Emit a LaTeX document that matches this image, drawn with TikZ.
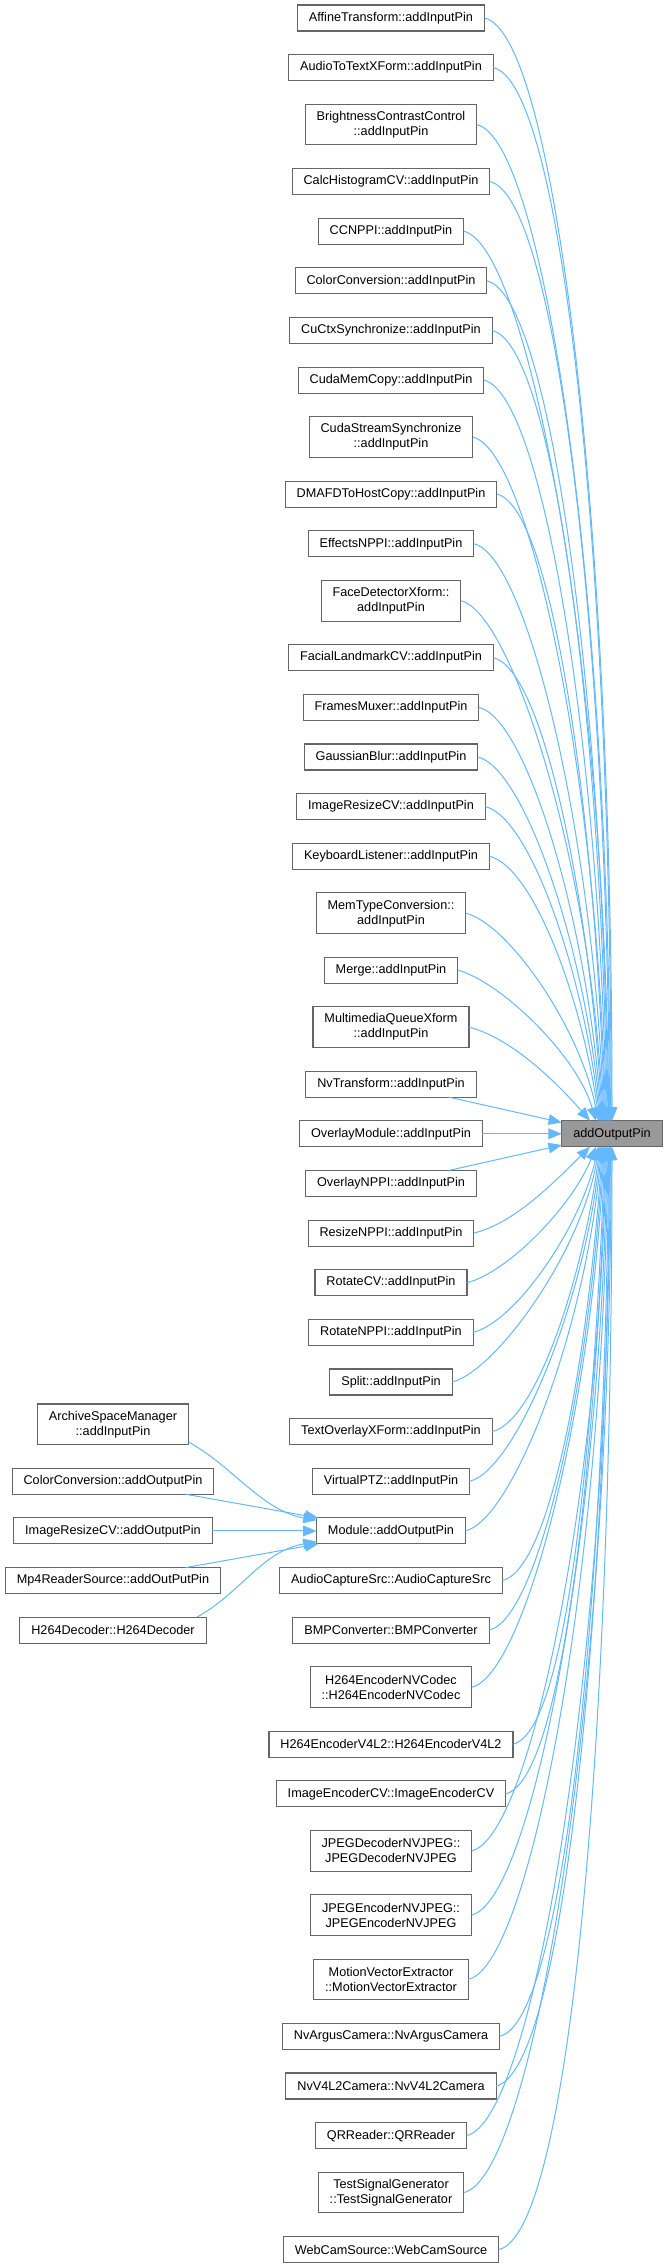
\documentclass[tikz,border=0pt]{standalone}
\usepackage{fontspec}
\setmainfont{Liberation Sans}
\usepackage{tikz}
\usetikzlibrary{arrows.meta,positioning,calc}
\definecolor{cEdge}{HTML}{63B8FF}
\definecolor{cLine}{HTML}{666666}
\definecolor{cHl}{HTML}{999999}
\tikzset{
  fnbox/.style={draw=cLine, line width=0.8pt, fill=white, outer sep=0pt,
                inner xsep=8.6pt, inner ysep=2pt, minimum height=19.5pt,
                font=\fontsize{9.5}{11.25}\selectfont, align=center},
  fnbox2/.style={fnbox, minimum height=30.5pt},
  hlbox/.style={fnbox, fill=cHl},
  calls/.style={-{Triangle[length=10pt,width=8pt]}, draw=cEdge, line width=0.75pt}
}

\begin{document}
\begin{tikzpicture}[x=0.75pt, y=-0.75pt, node distance=17.73pt]
\useasboundingbox (0,0) rectangle (668,2268);
% callers, one column
\node[fnbox] (aff) at (391,18) {AffineTransform::addInputPin};
\node[fnbox, below=of aff] (a2t) {AudioToTextXForm::addInputPin};
\node[fnbox2, below=of a2t] (bcc) {BrightnessContrastControl\\::addInputPin};
\node[fnbox, below=of bcc] (calc) {CalcHistogramCV::addInputPin};
\node[fnbox, below=of calc] (ccn) {CCNPPI::addInputPin};
\node[fnbox, below=of ccn] (ccin) {ColorConversion::addInputPin};
\node[fnbox, below=of ccin] (cuctx) {CuCtxSynchronize::addInputPin};
\node[fnbox, below=of cuctx] (cmem) {CudaMemCopy::addInputPin};
\node[fnbox2, below=of cmem] (csync) {CudaStreamSynchronize\\::addInputPin};
\node[fnbox, below=of csync] (dmaf) {DMAFDToHostCopy::addInputPin};
\node[fnbox, below=of dmaf] (eff) {EffectsNPPI::addInputPin};
\node[fnbox2, below=of eff] (face) {FaceDetectorXform::\\addInputPin};
\node[fnbox, below=of face] (facial) {FacialLandmarkCV::addInputPin};
\node[fnbox, below=of facial] (fmux) {FramesMuxer::addInputPin};
\node[fnbox, below=of fmux] (gblur) {GaussianBlur::addInputPin};
\node[fnbox, below=of gblur] (irin) {ImageResizeCV::addInputPin};
\node[fnbox, below=of irin] (kbd) {KeyboardListener::addInputPin};
\node[fnbox2, below=of kbd] (memt) {MemTypeConversion::\\addInputPin};
\node[fnbox, below=of memt] (merge) {Merge::addInputPin};
\node[fnbox2, below=of merge] (mmq) {MultimediaQueueXform\\::addInputPin};
\node[fnbox, below=of mmq] (nvtr) {NvTransform::addInputPin};
\node[fnbox, below=of nvtr] (ovm) {OverlayModule::addInputPin};
\node[fnbox, below=of ovm] (ovn) {OverlayNPPI::addInputPin};
\node[fnbox, below=of ovn] (rsz) {ResizeNPPI::addInputPin};
\node[fnbox, below=of rsz] (rotcv) {RotateCV::addInputPin};
\node[fnbox, below=of rotcv] (rotn) {RotateNPPI::addInputPin};
\node[fnbox, below=of rotn] (split) {Split::addInputPin};
\node[fnbox, below=of split] (txto) {TextOverlayXForm::addInputPin};
\node[fnbox, below=of txto] (vptz) {VirtualPTZ::addInputPin};
\node[fnbox, below=of vptz] (mod) {Module::addOutputPin};
\node[fnbox, below=of mod] (acap) {AudioCaptureSrc::AudioCaptureSrc};
\node[fnbox, below=of acap] (bmp) {BMPConverter::BMPConverter};
\node[fnbox2, below=of bmp] (h264nv) {H264EncoderNVCodec\\::H264EncoderNVCodec};
\node[fnbox, below=of h264nv] (h264v4) {H264EncoderV4L2::H264EncoderV4L2};
\node[fnbox, below=of h264v4] (imenc) {ImageEncoderCV::ImageEncoderCV};
\node[fnbox2, below=of imenc] (jdec) {JPEGDecoderNVJPEG::\\JPEGDecoderNVJPEG};
\node[fnbox2, below=of jdec] (jenc) {JPEGEncoderNVJPEG::\\JPEGEncoderNVJPEG};
\node[fnbox2, below=of jenc] (mvx) {MotionVectorExtractor\\::MotionVectorExtractor};
\node[fnbox, below=of mvx] (argus) {NvArgusCamera::NvArgusCamera};
\node[fnbox, below=of argus] (v4l2) {NvV4L2Camera::NvV4L2Camera};
\node[fnbox, below=of v4l2] (qr) {QRReader::QRReader};
\node[fnbox2, below=of qr] (tsg) {TestSignalGenerator\\::TestSignalGenerator};
\node[fnbox, below=of tsg] (webcam) {WebCamSource::WebCamSource};

% callers of Module::addOutputPin
\coordinate (lc) at (113,0);
\node[fnbox] (cco) at (lc |- vptz) {ColorConversion::addOutputPin};
\node[fnbox2, above=of cco] (asm) {ArchiveSpaceManager\\::addInputPin};
\node[fnbox] (irzo) at (lc |- mod) {ImageResizeCV::addOutputPin};
\node[fnbox] (mp4) at (lc |- acap) {Mp4ReaderSource::addOutPutPin};
\node[fnbox] (h26d) at (lc |- bmp) {H264Decoder::H264Decoder};

% the function itself
\coordinate (rc) at (612,0);
\node[hlbox] (out) at (rc |- ovm) {addOutputPin};

% edges from above
\foreach \src/\d/\s in {aff/1103/0pt, a2t/1054/0.6pt, bcc/996/1.2pt, calc/939/1.8pt,
    ccn/890/2.4pt, ccin/840/3pt, cuctx/791/3.6pt, cmem/742/4.2pt, csync/684/4.8pt,
    dmaf/627/5.4pt, eff/578/6pt, face/520/6.6pt, facial/463/7.2pt, fmux/414/7.8pt,
    gblur/364/8.4pt, irin/315/9pt, kbd/266/9.6pt, memt/208/10.2pt, merge/151/12pt,
    mmq/94/16.5pt} {
  \pgfmathsetmacro\efr{max(0,min(1,(\d-150)/950))}
  \pgfmathsetmacro\eca{40+30*\efr}
  \pgfmathsetmacro\ecb{10+5*\efr}
  \pgfmathsetmacro\ecc{20*(1-\efr)+0.3*max(0,150-\d)}
  \pgfmathsetmacro\ech{(0.45+0.1*\efr)*\d}
  \draw[calls] (\src.east) .. controls +(\eca,\ecb) and +(-\ecc,-\ech) .. ([xshift=-\s]out.north);
}
% edges from below
\foreach \src/\d/\s in {webcam/1103/0pt, tsg/1046/0.6pt, qr/988/1.2pt, v4l2/939/1.8pt,
    argus/890/2.4pt, mvx/832/3pt, jenc/767/3.6pt, jdec/702/4.2pt, imenc/645/4.8pt,
    h264v4/595/5.4pt, h264nv/538/6pt, bmp/481/6.6pt, acap/432/7.2pt, mod/382/7.8pt,
    vptz/333/8.4pt, txto/283/9pt, split/234/9.6pt, rotn/185/10.2pt, rotcv/135/12pt,
    rsz/86/16.5pt} {
  \pgfmathsetmacro\efr{max(0,min(1,(\d-150)/950))}
  \pgfmathsetmacro\eca{40+30*\efr}
  \pgfmathsetmacro\ecb{10+5*\efr}
  \pgfmathsetmacro\ecc{20*(1-\efr)+0.3*max(0,150-\d)}
  \pgfmathsetmacro\ech{(0.45+0.1*\efr)*\d}
  \draw[calls] (\src.east) .. controls +(\eca,-\ecb) and +(-\ecc,\ech) .. ([xshift=-\s]out.south);
}
% short ones
\draw[calls] (nvtr) -- (out);
\draw[calls] (ovm) -- (out);
\draw[calls] (ovn) -- (out);

\draw[calls] ([yshift=2pt]asm.south east) .. controls +(45,25) and +(-55,-10) .. ([yshift=8pt]mod.west);
\draw[calls] (cco) -- (mod);
\draw[calls] (irzo) -- (mod);
\draw[calls] (mp4) -- (mod);
\draw[calls] ([xshift=-7pt]h26d.north east) .. controls +(45,-25) and +(-55,10) .. ([yshift=-8pt]mod.west);
\end{tikzpicture}
\end{document}
